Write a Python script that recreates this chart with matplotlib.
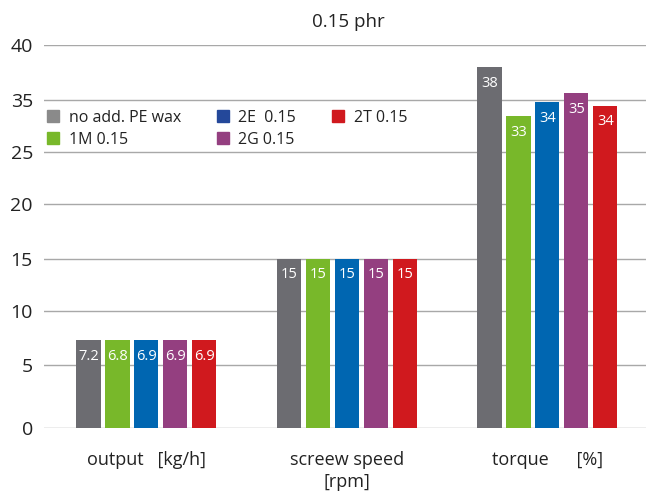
import numpy as np
import matplotlib
matplotlib.use("Agg")
import matplotlib.pyplot as plt
from matplotlib.lines import Line2D

plt.rcParams['font.family'] = ['Open Sans', 'DejaVu Sans']

# ---- data ----
categories = ["output   [kg/h]", "screew speed\n[rpm]", "torque      [%]"]
series = ["no add. PE wax", "1M 0.15", "2E  0.15", "2G 0.15", "2T 0.15"]
# drawn bar heights (read against the chart's gridlines)
h_nowax = [7.3, 15, 38.0]
h_1m = [7.3, 15, 31.9]
h_2e = [7.3, 15, 34.6]
h_2g = [7.3, 15, 35.6]
h_2t = [7.3, 15, 33.85]
# printed value labels
lab_nowax = ["7.2", "15", "38"]
lab_1m = ["6.8", "15", "33"]
lab_2e = ["6.9", "15", "34"]
lab_2g = ["6.9", "15", "35"]
lab_2t = ["6.9", "15", "34"]
# y-axis tick values as printed (the original skips 30)
ytick_vals = [0, 5, 10, 15, 20, 25, 35, 40]
ytick_labels = ["0", "5", "10", "15", "20", "25", "35", "40"]
title = "0.15 phr"

bar_colors = ["#6c6c71", "#78b82a", "#0066b1", "#943f80", "#d0191e"]
legend_colors = ["#8a8a8a", "#78b82a", "#24489a", "#943f80", "#d0191e"]

# ---- scale: the printed ticks are evenly spaced (grid slots) ----
grid_slots = np.array([0.0, 1.143, 2.143, 3.095, 4.092, 5.05, 6.0, 7.0])
tv = np.array(ytick_vals, dtype=float)

def _interp_ext(x, xp, fp):
    x = np.asarray(x, dtype=float)
    y = np.interp(x, xp, fp)
    lo = x < xp[0]
    hi = x > xp[-1]
    y = np.where(lo, fp[0] + (x - xp[0]) * (fp[1] - fp[0]) / (xp[1] - xp[0]), y)
    y = np.where(hi, fp[-1] + (x - xp[-1]) * (fp[-1] - fp[-2]) / (xp[-1] - xp[-2]), y)
    return y

fwd = lambda v: _interp_ext(v, tv, grid_slots)
inv = lambda s: _interp_ext(s, grid_slots, tv)

W, H = 646, 496
fig = plt.figure(figsize=(W / 100, H / 100), dpi=100)
fig.patch.set_facecolor("white")
ax = fig.add_axes([44 / W, 1 - 427.7 / H, (W - 44) / W, (427.7 - 45.3) / H])
ax.set_facecolor("white")
ax.set_yscale("function", functions=(fwd, inv))
ax.set_ylim(0, 40)

heights = [h_nowax, h_1m, h_2e, h_2g, h_2t]
labels = [lab_nowax, lab_1m, lab_2e, lab_2g, lab_2t]
x = np.arange(len(categories))
bw = 0.12
pitch = 0.1445
for i, (hs, ls) in enumerate(zip(heights, labels)):
    xs = x + (i - 2) * pitch
    bars = ax.bar(xs, hs, width=bw, color=bar_colors[i], zorder=3)
    for b, lab in zip(bars, ls):
        ax.annotate(lab, (b.get_x() + b.get_width() / 2, b.get_height()),
                    xytext=(0, -16), textcoords="offset pixels",
                    ha="center", va="center", color="white", fontsize=10.5,
                    zorder=4)

ax.set_xlim(-0.511, -0.511 + 602 / 200.5)
ax.set_xticks(x)
ax.set_xticklabels(categories, fontsize=13, color="#222222", linespacing=1.25)
ax.set_yticks(ytick_vals)
ax.set_yticklabels(ytick_labels, fontsize=14, color="#222222")
ax.yaxis.set_minor_locator(matplotlib.ticker.NullLocator())
ax.tick_params(axis="both", length=0)
ax.tick_params(axis="y", pad=8)
ax.tick_params(axis="x", pad=17)
for s in ax.spines.values():
    s.set_visible(False)
ax.yaxis.grid(True, color="#a8a8a8", linewidth=1.0, zorder=0)
ax.set_axisbelow(True)

fig.text(348 / W, 1 - 22 / H, title, ha="center", va="center",
         fontsize=13.5, color="#222222")

handles = [Line2D([], [], linestyle="none", marker="s", markersize=9.2,
                  markerfacecolor=c, markeredgecolor=c) for c in legend_colors]
leg = ax.legend(handles, series, ncol=3, loc="upper left",
                bbox_to_anchor=(47 / W, 1 - 110 / H), bbox_transform=fig.transFigure,
                frameon=False, fontsize=11.5, handlelength=0.8, handletextpad=0.55,
                columnspacing=2.25, labelspacing=0.35, borderpad=0, borderaxespad=0)
for t in leg.get_texts():
    t.set_color("#222222")

fig.savefig("out.png", dpi=100, facecolor="white")
